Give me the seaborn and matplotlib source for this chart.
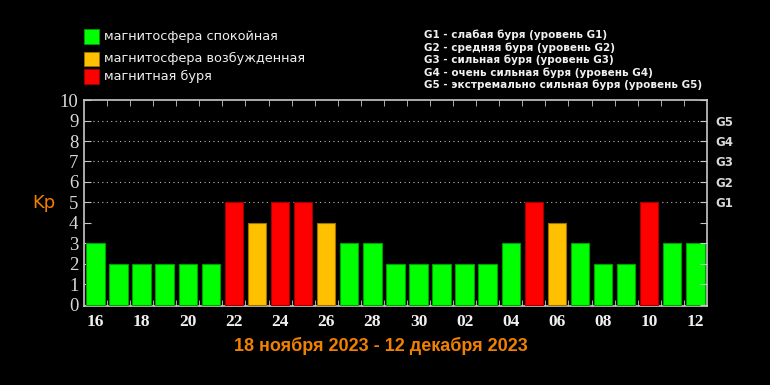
import matplotlib
matplotlib.use("Agg")
import matplotlib.pyplot as plt
import matplotlib.colors as mcolors
import seaborn as sns
from matplotlib.patches import Rectangle

# Kp index per day, 16 Nov - 12 Dec 2023
days = ["16", "17", "18", "19", "20", "21", "22", "23", "24", "25", "26",
        "27", "28", "29", "30", "01", "02", "03", "04", "05", "06", "07",
        "08", "09", "10", "11", "12"]
kp = [3, 2, 2, 2, 2, 2, 5, 4, 5, 5, 4, 3, 3, 2, 2, 2, 2, 2, 3, 5, 4, 3,
      2, 2, 5, 3, 3]
legend_labels = ["магнитосфера спокойная", "магнитосфера возбужденная",
                 "магнитная буря"]
g_labels = ["G1 - слабая буря (уровень G1)",
            "G2 - средняя буря (уровень G2)",
            "G3 - сильная буря (уровень G3)",
            "G4 - очень сильная буря (уровень G4)",
            "G5 - экстремально сильная буря (уровень G5)"]
period = "18 ноября 2023 - 12 декабря 2023"

fill = {"quiet": "#00ff00", "excited": "#ffc000", "storm": "#ff0000"}
edge = {"quiet": "#00a000", "excited": "#a07000", "storm": "#a00000"}
level = ["storm" if v >= 5 else "excited" if v == 4 else "quiet" for v in kp]

sns.set_style("dark")
plt.rcParams["font.family"] = ["DejaVu Sans"]
narrow = ["Liberation Sans", "DejaVu Sans"]
serif = ["Liberation Serif", "DejaVu Serif"]
grey = "#c8c8c8"
orange = "#f08000"

fig = plt.figure(figsize=(7.7, 3.85), dpi=100, facecolor="black")
ax = fig.add_axes([0.109, 0.205, 0.809, 0.535], facecolor="black")

sns.barplot(x=days, y=kp, hue=level, order=days, palette=fill, dodge=False,
            legend=False, width=0.8, saturation=1, ax=ax, zorder=3)
by_face = {mcolors.to_hex(fill[k]): k for k in fill}
for patch in ax.patches:
    key = by_face.get(mcolors.to_hex(patch.get_facecolor()), "quiet")
    patch.set_edgecolor(edge[key])
    patch.set_linewidth(0.8)

ax.set_xlim(-0.5, len(days) - 0.5)
ax.set_ylim(-0.07, 10)
ax.grid(False)
for y in range(5, 10):
    ax.axhline(y, color="#bbbbbb", lw=0.8, ls=(0, (1, 3)), zorder=1)

for s in ax.spines.values():
    s.set_visible(True)
    s.set_color(grey)
    s.set_linewidth(1.2)

ax.set_yticks(range(0, 11))
ax.set_yticklabels([str(i) for i in range(11)], family=serif,
                   fontsize=13.5, color="#d8d8d8")
ax.tick_params(axis="y", direction="in", length=5, color=grey, pad=4)

ax.set_xticks(range(0, len(days), 2))
ax.set_xticklabels(days[::2], family=serif, fontsize=12.5, fontweight="bold",
                   color="#f0f0f0")
ax.tick_params(axis="x", which="major", length=0, pad=6)
ax.set_xticks([i + 0.5 for i in range(len(days) - 1)], minor=True)
ax.tick_params(axis="x", which="minor", direction="in", length=4, color=grey,
               top=True, bottom=True)
ax.set_xlabel("")
ax.set_ylabel("")

ax2 = ax.twinx()
ax2.set_ylim(ax.get_ylim())
ax2.set_yticks(range(0, 11))
ax2.set_yticklabels(["", "", "", "", "", "G1", "G2", "G3", "G4", "G5", ""],
                    fontsize=8.5, fontweight="bold", color="#d8d8d8")
ax2.tick_params(axis="y", direction="in", length=5, color=grey, pad=6)
ax2.grid(False)
for s in ax2.spines.values():
    s.set_visible(False)

fig.text(0.057, 0.472, "Kp", color=orange, fontsize=13, ha="center", va="center")
fig.text(0.494, 0.102, period, color=orange, fontsize=13, fontweight="bold",
         family=narrow, ha="center", va="center")

# colour legend, top-left
sq_y = [0.906, 0.847, 0.802]
for key, lab, y in zip(["quiet", "excited", "storm"], legend_labels, sq_y):
    fig.add_artist(Rectangle((0.109, y - 0.019), 0.0195, 0.038,
                             transform=fig.transFigure, facecolor=fill[key],
                             edgecolor=edge[key], lw=0.6))
    fig.text(0.135, y, lab, color="#f0f0f0", fontsize=9.3, va="center")

# storm level legend, top-right
for i, lab in enumerate(g_labels):
    fig.text(0.551, 0.909 - i * 0.0325, lab, color="#f0f0f0", fontsize=7.5,
             fontweight="bold", va="center")

fig.savefig("out.png", dpi=100, facecolor="black")
